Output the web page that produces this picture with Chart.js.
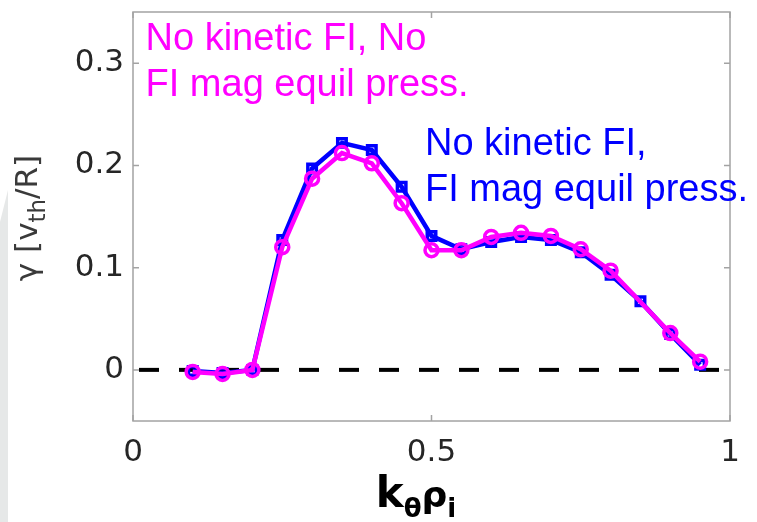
<!DOCTYPE html>
<html>
<head>
<meta charset="utf-8">
<script src="https://cdn.jsdelivr.net/npm/chart.js@4.4.1/dist/chart.umd.min.js"></script>
<style>
  html, body { margin: 0; padding: 0; background: #fff; }
  canvas { display: block; }
</style>
</head>
<body>
<canvas id="growthChart" width="757" height="522"></canvas>
<script>
/* --------------- Data --------------------- */
const kThetaRho = [0.1, 0.15, 0.2, 0.25, 0.3, 0.35, 0.4, 0.45, 0.5, 0.55, 0.6, 0.65, 0.7, 0.75, 0.8, 0.85, 0.9, 0.95];
// with FI magnetic equilibrium pressure (blue squares)
const gammaFiPress = [-0.001, -0.003, 0.0, 0.127, 0.197, 0.222, 0.215, 0.179, 0.131, 0.118, 0.125, 0.130, 0.127, 0.115, 0.093, 0.067, 0.035, 0.005];
// without FI pressure (magenta circles), no point at 0.85
const gammaNoFiPress = [-0.002, -0.004, 0.0, 0.120, 0.187, 0.212, 0.202, 0.163, 0.117, 0.117, 0.130, 0.134, 0.131, 0.118, 0.097, null, 0.036, 0.008];
const zeroLineX = [0, 1];
const zeroLineY = [0, 0];

const xTickValues = [0, 0.5, 1];
const yTickValues = [0, 0.1, 0.2, 0.3];

const labelNoFiPress = ["No kinetic FI, No", "FI mag equil press."];
const labelFiPress = ["No kinetic FI,", "FI mag equil press."];

const toPoints = (xs, ys) => xs.map((x, i) => ({ x: x, y: ys[i] }));

/* --------------- Frame, ticks and labels --------------------- */
const BOX_COLOR = "#a3a3a3";
const TICK_LEN = 6;

const frame = {
  id: "frame",
  beforeDraw(chart) {
    const ctx = chart.ctx;
    ctx.save();
    ctx.fillStyle = "#ffffff";
    ctx.fillRect(0, 0, chart.width, chart.height);
    // grey strip along the left edge
    ctx.fillStyle = "#e6e8e8";
    ctx.beginPath();
    ctx.moveTo(8, 190);
    ctx.lineTo(8, chart.height);
    ctx.lineTo(0, chart.height);
    ctx.lineTo(0, 222);
    ctx.closePath();
    ctx.fill();
    ctx.restore();
  },
  afterDraw(chart) {
    const ctx = chart.ctx;
    const a = chart.chartArea;
    const xs = chart.scales.x;
    const ys = chart.scales.y;
    ctx.save();

    // axes box
    ctx.strokeStyle = BOX_COLOR;
    ctx.lineWidth = 1.5;
    ctx.strokeRect(a.left, a.top, a.right - a.left, a.bottom - a.top);

    // inward ticks on all four sides
    ctx.beginPath();
    xTickValues.forEach((v) => {
      const px = xs.getPixelForValue(v);
      ctx.moveTo(px, a.bottom); ctx.lineTo(px, a.bottom - TICK_LEN);
      ctx.moveTo(px, a.top); ctx.lineTo(px, a.top + TICK_LEN);
    });
    yTickValues.forEach((v) => {
      const py = ys.getPixelForValue(v);
      ctx.moveTo(a.left, py); ctx.lineTo(a.left + TICK_LEN, py);
      ctx.moveTo(a.right, py); ctx.lineTo(a.right - TICK_LEN, py);
    });
    ctx.stroke();

    // curve labels
    ctx.textBaseline = "alphabetic";
    ctx.textAlign = "left";
    ctx.font = "38px 'Liberation Sans', Arial, sans-serif";
    const drawLines = (lines, x, y, color) => {
      ctx.fillStyle = color;
      const px = xs.getPixelForValue(x);
      const py = ys.getPixelForValue(y);
      lines.forEach((t, i) => ctx.fillText(t, px, py + i * 46));
    };
    drawLines(labelNoFiPress, 0.021, 0.313, "#ff00ff");
    drawLines(labelFiPress, 0.489, 0.21, "#0000ff");

    // y axis title: gamma [v_th/R], rotated
    const yParts = [
      { t: "\u03b3 [v", size: 31, dy: 0 },
      { t: "th", size: 23, dy: 8 },
      { t: "/R]", size: 31, dy: 0 },
    ];
    ctx.fillStyle = "#3a3a3a";
    let total = 0;
    yParts.forEach((p) => {
      ctx.font = p.size + "px 'DejaVu Sans', sans-serif";
      p.w = ctx.measureText(p.t).width;
      total += p.w;
    });
    ctx.translate(37, 218);
    ctx.rotate(-Math.PI / 2);
    let cx = -total / 2;
    yParts.forEach((p) => {
      ctx.font = p.size + "px 'DejaVu Sans', sans-serif";
      ctx.fillText(p.t, cx, p.dy);
      cx += p.w;
    });
    ctx.setTransform(1, 0, 0, 1, 0, 0);

    // x axis title: k_theta rho_i
    const xParts = [
      { t: "k", size: 42, dy: 0 },
      { t: "\u03b8", size: 26, dy: 10 },
      { t: "\u03c1", size: 36, dy: 0 },
      { t: "i", size: 26, dy: 10 },
    ];
    ctx.fillStyle = "#000000";
    total = 0;
    xParts.forEach((p) => {
      ctx.font = "bold " + p.size + "px 'DejaVu Sans', sans-serif";
      p.w = ctx.measureText(p.t).width;
      total += p.w;
    });
    cx = 416 - total / 2;
    xParts.forEach((p) => {
      ctx.font = "bold " + p.size + "px 'DejaVu Sans', sans-serif";
      ctx.fillText(p.t, cx, 507 + p.dy);
      cx += p.w;
    });

    ctx.restore();
  },
};

/* --------------- Chart --------------------- */
const growthChart = new Chart(document.getElementById("growthChart"), {
  type: "line",
  plugins: [frame],
  data: {
    datasets: [
      {
        data: toPoints(kThetaRho, gammaNoFiPress),
        borderColor: "#ff00ff",
        backgroundColor: "rgba(0,0,0,0)",
        borderWidth: 4.5,
        pointStyle: "circle",
        pointRadius: 6.5,
        pointBorderWidth: 3.5,
        pointBackgroundColor: "rgba(0,0,0,0)",
        pointBorderColor: "#ff00ff",
        spanGaps: true,
        order: 1,
      },
      {
        data: toPoints(kThetaRho, gammaFiPress),
        borderColor: "#0000ff",
        backgroundColor: "rgba(0,0,0,0)",
        borderWidth: 4.5,
        pointStyle: "rect",
        pointRadius: 6,
        pointBorderWidth: 3.5,
        pointBackgroundColor: "rgba(0,0,0,0)",
        pointBorderColor: "#0000ff",
        order: 2,
      },
      {
        data: toPoints(zeroLineX, zeroLineY),
        borderColor: "#000000",
        borderWidth: 4,
        borderDash: [20, 20],
        borderDashOffset: -6,
        pointRadius: 0,
        order: 3,
      },
    ],
  },
  options: {
    responsive: false,
    devicePixelRatio: 1,
    animation: false,
    layout: { padding: { top: 12, right: 27, bottom: 0, left: 0 } },
    plugins: { legend: { display: false }, tooltip: { enabled: false } },
    elements: { line: { tension: 0 } },
    scales: {
      x: {
        type: "linear",
        min: 0,
        max: 1,
        afterBuildTicks: (s) => { s.ticks = xTickValues.map((v) => ({ value: v })); },
        afterFit: (s) => { s.height = 101; s.paddingLeft = 0; s.paddingRight = 0; },
        grid: { display: false, drawTicks: false },
        border: { display: false },
        ticks: {
          padding: 13,
          color: "#262626",
          font: { family: "'DejaVu Sans', sans-serif", size: 31 },
          callback: (v) => String(v),
          maxRotation: 0,
        },
      },
      y: {
        type: "linear",
        min: -0.05,
        max: 0.35,
        afterBuildTicks: (s) => { s.ticks = yTickValues.map((v) => ({ value: v })); },
        afterFit: (s) => { s.width = 133; s.paddingTop = 0; s.paddingBottom = 0; },
        grid: { display: false, drawTicks: false },
        border: { display: false },
        ticks: {
          padding: 9,
          color: "#262626",
          font: { family: "'DejaVu Sans', sans-serif", size: 31 },
          callback: (v) => String(v),
        },
      },
    },
  },
});
</script>
</body>
</html>
